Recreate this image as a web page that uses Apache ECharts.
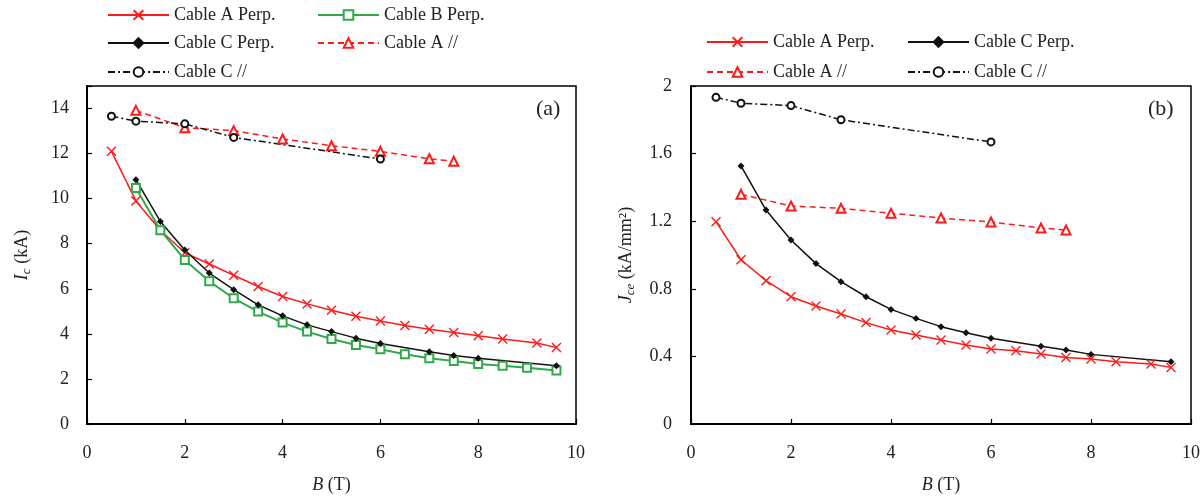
<!DOCTYPE html>
<html>
<head>
<meta charset="utf-8">
<script src="https://cdn.jsdelivr.net/npm/echarts@6/dist/echarts.min.js"></script>
<style>
  html, body { margin: 0; padding: 0; background: #fff; }
  #chart { width: 1203px; height: 499px; }
</style>
</head>
<body>
<div id="chart"></div>
<script>
// ---- Panel (a): critical current Ic (kA) vs field B (T) ----
const aPerpB  = [0.5, 1, 1.5, 2, 2.5, 3, 3.5, 4, 4.5, 5, 5.5, 6, 6.5, 7, 7.5, 8, 8.5, 9.2, 9.6];
const aPerpIc = [12.1, 9.9, 8.6, 7.6, 7.1, 6.6, 6.1, 5.66, 5.33, 5.05, 4.78, 4.57, 4.37, 4.21, 4.06, 3.92, 3.77, 3.59, 3.39];
const bPerpB  = [1, 1.5, 2, 2.5, 3, 3.5, 4, 4.5, 5, 5.5, 6, 6.5, 7, 7.5, 8, 8.5, 9, 9.6];
const bPerpIc = [10.47, 8.6, 7.28, 6.33, 5.58, 4.99, 4.5, 4.1, 3.77, 3.51, 3.32, 3.1, 2.92, 2.8, 2.66, 2.58, 2.5, 2.37];
const cPerpB  = [1, 1.5, 2, 2.5, 3, 3.5, 4, 4.5, 5, 5.5, 6, 7, 7.5, 8, 9.6];
const cPerpIc = [10.84, 8.99, 7.72, 6.7, 5.96, 5.29, 4.8, 4.4, 4.1, 3.81, 3.57, 3.21, 3.04, 2.92, 2.58];
const aParB   = [1, 2, 3, 4, 5, 6, 7, 7.5];
const aParIc  = [13.92, 13.15, 13.02, 12.65, 12.35, 12.1, 11.77, 11.66];
const cParB   = [0.5, 1, 2, 3, 6];
const cParIc  = [13.66, 13.44, 13.32, 12.72, 11.76];

// ---- Panel (b): engineering current density Jce (kA/mm²) vs field B (T) ----
const aPerpJ = [1.197, 0.972, 0.848, 0.753, 0.698, 0.651, 0.600, 0.556, 0.527, 0.497, 0.467, 0.444, 0.434, 0.414, 0.394, 0.385, 0.369, 0.355, 0.335];
const cPerpJ = [1.527, 1.266, 1.089, 0.949, 0.842, 0.753, 0.678, 0.625, 0.576, 0.540, 0.507, 0.460, 0.438, 0.412, 0.369];
const aParJ  = [1.359, 1.29, 1.276, 1.247, 1.219, 1.195, 1.16, 1.148];
const cParJ  = [1.933, 1.898, 1.884, 1.80, 1.669];

// Axis ticks
const xTicks   = [0, 2, 4, 6, 8, 10];
const icTicks  = [0, 2, 4, 6, 8, 10, 12, 14];
const jceTicks = [0, 0.4, 0.8, 1.2, 1.6, 2];

const pairs = (xs, ys) => xs.map((x, i) => [x, ys[i]]);

const FONT = '"Liberation Serif", "DejaVu Serif", serif';
const RED = '#ff1a1a';
const GREEN = '#2eaa4a';
const BLACK = '#111';
const CROSS = 'path://M0,0L10,10M10,0L0,10';

// Series styles shared by both panels
const styles = {
  'Cable A Perp.': { color: RED, lineType: 'solid', symbol: CROSS, symbolSize: 9 },
  'Cable B Perp.': { color: GREEN, lineType: 'solid', symbol: 'emptyRect', symbolSize: 8, width: 2 },
  'Cable C Perp.': { color: BLACK, lineType: 'solid', symbol: 'diamond', symbolSize: 5 },
  'Cable A //':    { color: RED, lineType: [6, 4], symbol: 'emptyTriangle', symbolSize: 9 },
  'Cable C //':    { color: BLACK, lineType: [7, 3, 2, 3], symbol: 'emptyCircle', symbolSize: 7 }
};

function makeSeries(name, data, axisIdx) {
  const s = styles[name];
  return {
    name: name,
    type: 'line',
    xAxisIndex: axisIdx,
    yAxisIndex: axisIdx,
    data: data,
    symbol: s.symbol,
    symbolSize: s.symbolSize,
    showAllSymbol: true,
    animation: false,
    lineStyle: { color: s.color, width: s.width || 1.5, type: s.lineType },
    itemStyle: { color: s.color, borderColor: s.color, borderWidth: 1.4 },
    emphasis: { disabled: true }
  };
}

const axisCommon = {
  axisLine: { show: true, onZero: false, lineStyle: { color: '#000', width: 2 } },
  axisTick: { show: true, inside: true, length: 5, lineStyle: { color: '#000', width: 1.2 } },
  splitLine: { show: false },
  axisLabel: { color: '#222', fontFamily: FONT, fontSize: 18 },
  nameTextStyle: { color: '#222', fontFamily: FONT, fontSize: 18 }
};

function xAxis(gridIndex) {
  return Object.assign({}, axisCommon, {
    type: 'value', gridIndex: gridIndex, min: xTicks[0], max: xTicks[xTicks.length - 1], interval: 2,
    axisLabel: Object.assign({}, axisCommon.axisLabel, { margin: 20 }),
    name: '{i|B} (T)', nameLocation: 'middle', nameGap: 52,
    nameTextStyle: Object.assign({}, axisCommon.nameTextStyle, {
      rich: { i: { fontFamily: FONT, fontSize: 18, fontStyle: 'italic', color: '#222' } }
    })
  });
}

const legendText = { color: '#222', fontFamily: FONT, fontSize: 18, lineHeight: 20 };
function legendItem(name, left, top) {
  return {
    data: [name], left: left, top: top, padding: 0,
    itemWidth: 61, itemHeight: 12, itemGap: 0,
    selectedMode: false,
    textStyle: legendText
  };
}

const option = {
  backgroundColor: '#fff',
  animation: false,
  grid: [
    { left: 87, right: 627, top: 86, bottom: 75, show: true, borderColor: '#000', borderWidth: 1.5 },
    { left: 691, right: 9, top: 86, bottom: 75, show: true, borderColor: '#000', borderWidth: 1.5 }
  ],
  xAxis: [xAxis(0), xAxis(1)],
  yAxis: [
    Object.assign({}, axisCommon, {
      type: 'value', gridIndex: 0, min: icTicks[0], max: 15, interval: 2,
      axisLabel: Object.assign({}, axisCommon.axisLabel, {
        margin: 18,
        formatter: v => (icTicks.indexOf(v) >= 0 ? String(v) : '')
      }),
      name: '{i|I}{s|c} (kA)', nameLocation: 'middle', nameGap: 54, nameRotate: 90,
      nameTextStyle: Object.assign({}, axisCommon.nameTextStyle, {
        rich: {
          i: { fontFamily: FONT, fontSize: 18, fontStyle: 'italic', color: '#222' },
          s: { fontFamily: FONT, fontSize: 13, fontStyle: 'italic', color: '#222', verticalAlign: 'bottom', padding: [9, 0, 0, 0] }
        }
      })
    }),
    Object.assign({}, axisCommon, {
      type: 'value', gridIndex: 1, min: jceTicks[0], max: jceTicks[jceTicks.length - 1], interval: 0.4,
      axisLabel: Object.assign({}, axisCommon.axisLabel, { margin: 19 }),
      name: '{i|J}{s|ce} (kA/mm²)', nameLocation: 'middle', nameGap: 54, nameRotate: 90,
      nameTextStyle: Object.assign({}, axisCommon.nameTextStyle, {
        rich: {
          i: { fontFamily: FONT, fontSize: 18, fontStyle: 'italic', color: '#222' },
          s: { fontFamily: FONT, fontSize: 13, fontStyle: 'italic', color: '#222', verticalAlign: 'bottom', padding: [9, 0, 0, 0] }
        }
      })
    })
  ],
  legend: [
    legendItem('Cable A Perp.', 107, 5),
    legendItem('Cable B Perp.', 317, 5),
    legendItem('Cable C Perp.', 107, 33),
    legendItem('Cable A //', 317, 33),
    legendItem('Cable C //', 107, 62),
    legendItem('Cable A Perp.', 706, 32),
    legendItem('Cable C Perp.', 907, 32),
    legendItem('Cable A //', 706, 62),
    legendItem('Cable C //', 907, 62)
  ],
  graphic: [
    { type: 'text', left: 536, top: 98, style: { text: '(a)', font: '22px ' + FONT, fill: '#222' } },
    { type: 'text', left: 1148, top: 98, style: { text: '(b)', font: '22px ' + FONT, fill: '#222' } }
  ],
  series: [
    makeSeries('Cable A //', pairs(aParB, aParIc), 0),
    makeSeries('Cable C //', pairs(cParB, cParIc), 0),
    makeSeries('Cable A Perp.', pairs(aPerpB, aPerpIc), 0),
    makeSeries('Cable B Perp.', pairs(bPerpB, bPerpIc), 0),
    makeSeries('Cable C Perp.', pairs(cPerpB, cPerpIc), 0),
    makeSeries('Cable A //', pairs(aParB, aParJ), 1),
    makeSeries('Cable C //', pairs(cParB, cParJ), 1),
    makeSeries('Cable A Perp.', pairs(aPerpB, aPerpJ), 1),
    makeSeries('Cable C Perp.', pairs(cPerpB, cPerpJ), 1)
  ]
};

const chart = echarts.init(document.getElementById('chart'), null, { renderer: 'canvas' });
chart.setOption(option);
</script>
</body>
</html>
